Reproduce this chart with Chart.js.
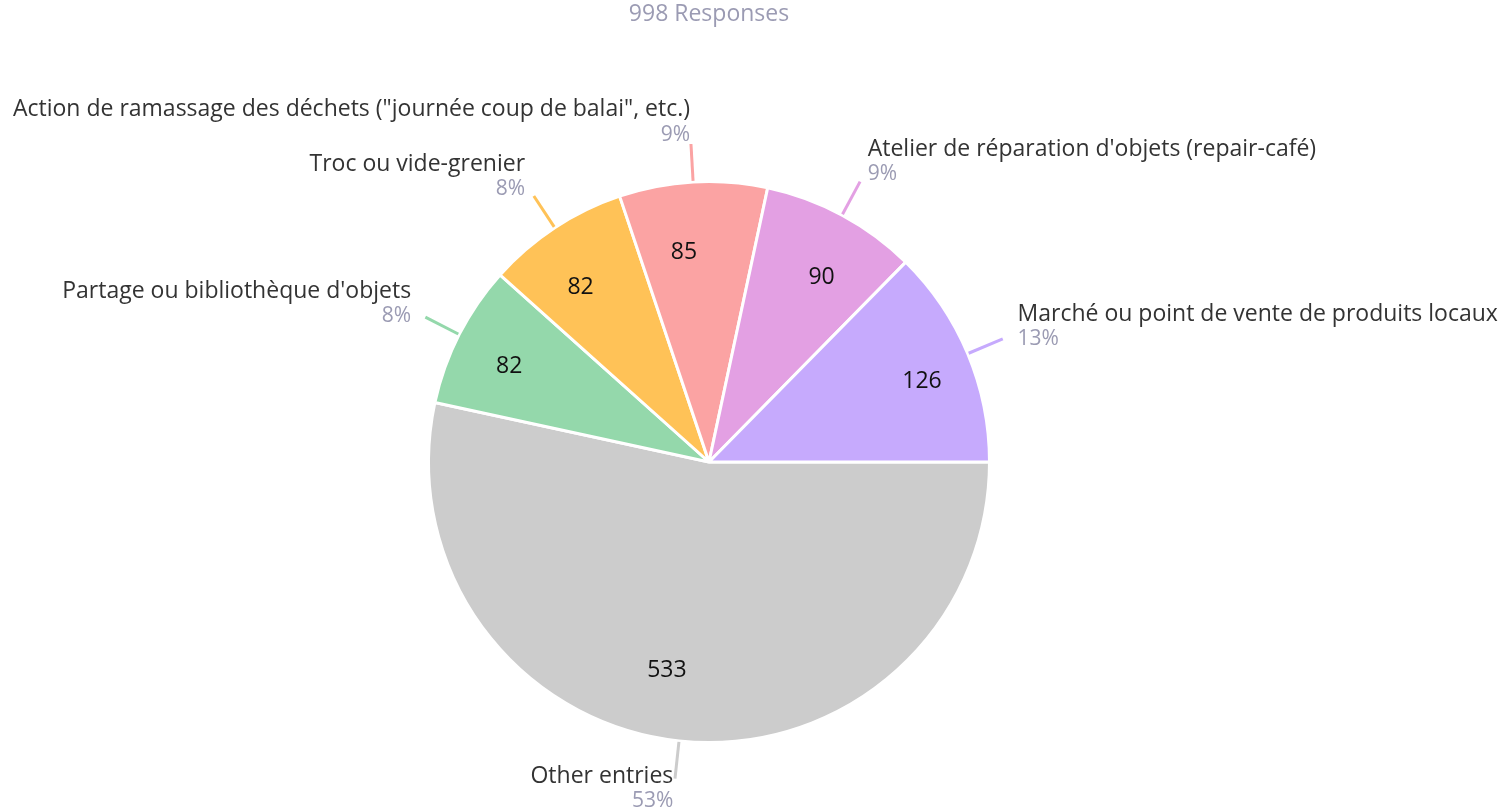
<!DOCTYPE html>
<html>
<head>
<meta charset="utf-8">
<script src="https://cdn.jsdelivr.net/npm/chart.js@4.4.1/dist/chart.umd.min.js"></script>
<style>
  html, body { margin: 0; padding: 0; background: #ffffff; }
  #wrap { width: 1499px; height: 812px; position: relative; }
</style>
</head>
<body>
<div id="wrap"><canvas id="c"></canvas></div>
<script>
// Data (drawn clockwise from 3 o'clock)
const categories = [
  "Other entries",
  "Partage ou bibliothèque d'objets",
  "Troc ou vide-grenier",
  "Action de ramassage des déchets (\"journée coup de balai\", etc.)",
  "Atelier de réparation d'objets (repair-café)",
  "Marché ou point de vente de produits locaux"
];
const counts = [533, 82, 82, 85, 90, 126];
const percentLabels = ["53%", "8%", "8%", "9%", "9%", "13%"];
const sliceColors = ["#cccccc", "#94d8ab", "#ffc257", "#fba3a3", "#e3a0e3", "#c6aafd"];
const titleText = "998 Responses";

const FONT = "'Open Sans', 'Noto Sans', sans-serif";

const outerLabels = {
  id: 'outerLabels',
  afterDatasetsDraw(chart) {
    const ctx = chart.ctx;
    const meta = chart.getDatasetMeta(0);
    ctx.save();
    // title
    const first = meta.data[0];
    ctx.font = "23px " + FONT;
    ctx.fillStyle = "#9b9bb3";
    ctx.textAlign = "center";
    ctx.textBaseline = "middle";
    ctx.fillText(titleText, first.x, 14);

    meta.data.forEach((arc, i) => {
      const mid = (arc.startAngle + arc.endAngle) / 2;
      const R = arc.outerRadius;
      const cx = arc.x, cy = arc.y;
      const cos = Math.cos(mid), sin = Math.sin(mid);
      // leader line
      ctx.strokeStyle = sliceColors[i];
      ctx.lineWidth = 3;
      ctx.beginPath();
      ctx.moveTo(cx + cos * (R + 1), cy + sin * (R + 1));
      ctx.lineTo(cx + cos * (R + 38), cy + sin * (R + 38));
      ctx.stroke();
      // text block
      const ax = cx + cos * (R + 54);
      const ay = cy + sin * (R + 54) - 6;
      ctx.textAlign = cos >= 0 ? "left" : "right";
      ctx.textBaseline = "middle";
      ctx.font = "23px " + FONT;
      ctx.fillStyle = "#333333";
      ctx.fillText(categories[i], ax, ay - 12.5);
      ctx.font = "21px " + FONT;
      ctx.fillStyle = "#9b9bb3";
      ctx.fillText(percentLabels[i], ax, ay + 12.5);
      // value inside: anchored on the mid ray, text extending outward
      const vr = R * 0.747;
      ctx.font = "23px " + FONT;
      ctx.fillStyle = "#111111";
      ctx.textAlign = cos >= 0 ? "left" : "right";
      ctx.fillText(String(counts[i]), cx + cos * vr, cy + sin * vr);
    });
    ctx.restore();
  }
};

new Chart(document.getElementById('c'), {
  type: 'pie',
  data: {
    labels: categories,
    datasets: [{
      data: counts,
      backgroundColor: sliceColors,
      borderColor: '#ffffff',
      borderWidth: 3
    }]
  },
  options: {
    responsive: true,
    maintainAspectRatio: false,
    animation: false,
    rotation: 90,
    layout: { padding: { top: 180, bottom: 68, left: 427, right: 508 } },
    plugins: {
      legend: { display: false },
      tooltip: { enabled: false },
      title: { display: false }
    }
  },
  plugins: [outerLabels]
});
</script>
</body>
</html>
